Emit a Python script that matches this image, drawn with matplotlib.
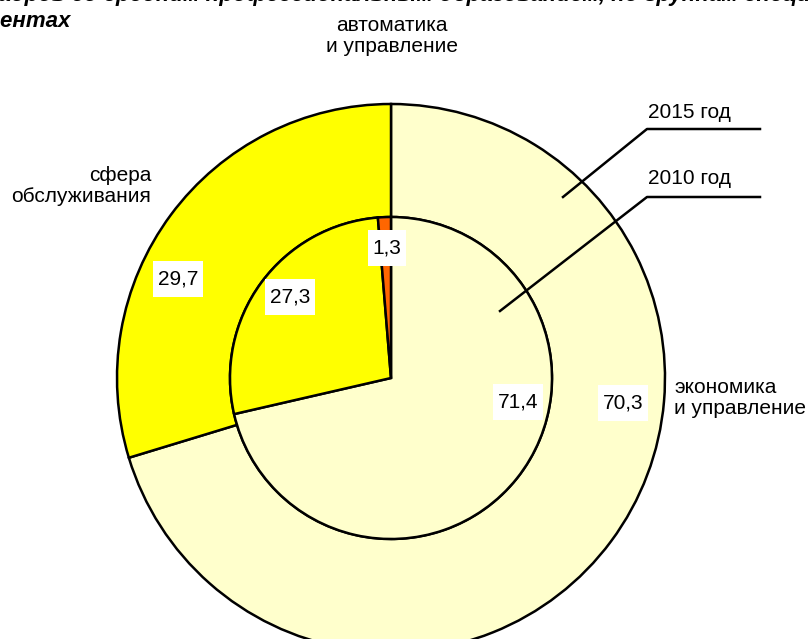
import matplotlib
matplotlib.use("Agg")
import matplotlib.pyplot as plt
from matplotlib.path import Path

plt.rcParams['font.family'] = ['Liberation Sans', 'DejaVu Sans']

# data
categories = ["экономика\nи управление", "сфера\nобслуживания", "автоматика\nи управление"]
values_2015 = [70.3, 29.7, 0.0]
values_2010 = [71.4, 27.3, 1.3]
colors = ["#FFFFCC", "#FFFF00", "#FF6600"]

W, H = 811, 639
def py(y):
    # pixel y (from top) -> data y
    return H - y

fig = plt.figure(figsize=(W / 100, H / 100), dpi=100)
ax = fig.add_axes([0, 0, 1, 1])

cx, cy = 391, py(378)
r_out, r_in = 274, 161
wedge = dict(edgecolor="black", linewidth=1.8)

# outer ring - 2015
ax.pie(values_2015[:2], colors=colors[:2], startangle=90, counterclock=False,
       center=(cx, cy), radius=r_out, wedgeprops=dict(width=r_out - r_in, **wedge))
# inner pie - 2010
ax.pie(values_2010, colors=colors, startangle=90, counterclock=False,
       center=(cx, cy), radius=r_in, wedgeprops=wedge)

ax.set_xlim(0, W)
ax.set_ylim(0, H)
ax.set_aspect("equal")
ax.axis("off")

fs = 15


# white label box, more padding top/bottom than left/right (like excel data labels)
def tall_box(x0, y0, width, height, mutation_size):
    px, pyd = 0.22 * mutation_size, 0.42 * mutation_size
    x0, y0 = x0 - px, y0 - pyd
    x1, y1 = x0 + width + 2 * px, y0 + height + 2 * pyd
    return Path([(x0, y0), (x1, y0), (x1, y1), (x0, y1), (x0, y0)],
                closed=True)


box = dict(boxstyle=tall_box, facecolor="white", edgecolor="none")

# value labels
def fmt(v):
    return f"{v:.1f}".replace(".", ",")

lbl_2015 = [(623, 403), (178, 279)]
lbl_2010 = [(518, 402), (290, 297), (387, 248)]
for v, (x, y) in zip(values_2015[:2], lbl_2015):
    ax.text(x, py(y), fmt(v), ha="center", va="center", fontsize=fs, bbox=box)
for v, (x, y) in zip(values_2010, lbl_2010):
    ax.text(x, py(y), fmt(v), ha="center", va="center", fontsize=fs, bbox=box)

# category labels
ax.text(674, py(398), categories[0], ha="left", va="center", fontsize=fs,
        linespacing=1.1, multialignment="left")
ax.text(151, py(186), categories[1], ha="right", va="center", fontsize=fs,
        linespacing=1.1, multialignment="right")
ax.text(392, py(36), categories[2], ha="center", va="center", fontsize=fs,
        linespacing=1.1, multialignment="center")

# series labels with leader lines
ax.plot([563, 647, 760], [py(197), py(129), py(129)], color="black", lw=1.8)
ax.plot([500, 647, 760], [py(311), py(197), py(197)], color="black", lw=1.8)
ax.text(648, py(113), "2015 год", ha="left", va="center", fontsize=fs)
ax.text(648, py(179), "2010 год", ha="left", va="center", fontsize=fs)

# title (cropped at the top of the picture, as in the source)
ax.text(392, py(1), "Подготовка кадров со средним профессиональным образованием, по группам специальностей,",
        ha="center", va="baseline", fontsize=16, fontweight="bold", fontstyle="italic")
ax.text(70, py(27), "в процентах", ha="right", va="baseline", fontsize=16,
        fontweight="bold", fontstyle="italic")

fig.savefig("out.png", dpi=100)
